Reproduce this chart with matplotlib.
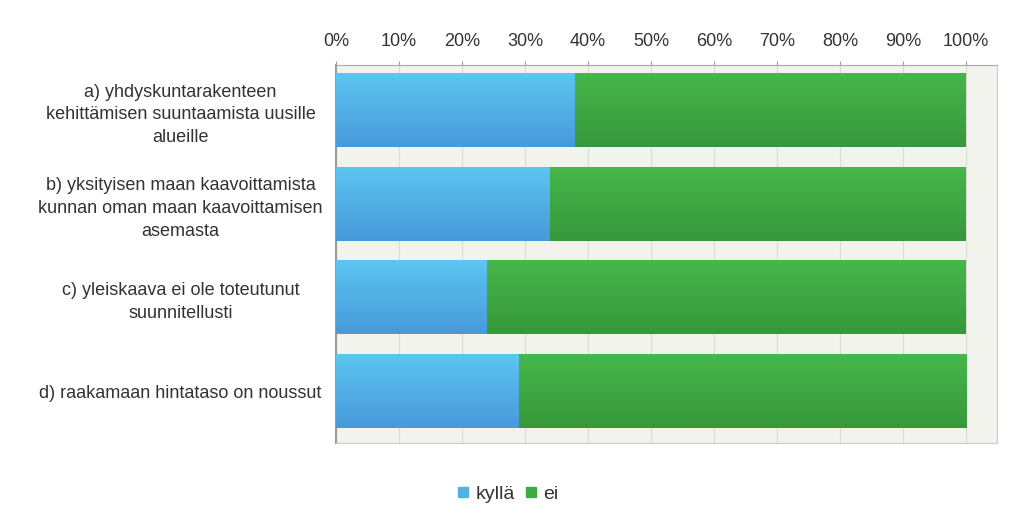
import numpy as np
import matplotlib
matplotlib.use("Agg")
import matplotlib.pyplot as plt
from matplotlib.lines import Line2D
from matplotlib.colors import to_rgb

categories = [
    "a) yhdyskuntarakenteen\nkehittämisen suuntaamista uusille\nalueille",
    "b) yksityisen maan kaavoittamista\nkunnan oman maan kaavoittamisen\nasemasta",
    "c) yleiskaava ei ole toteutunut\nsuunnitellusti",
    "d) raakamaan hintataso on noussut",
]
kylla = [38, 34, 24, 29]
ei = [62, 66, 76, 71]
series_names = ["kyllä", "ei"]
ticks = [0, 10, 20, 30, 40, 50, 60, 70, 80, 90, 100]
tick_labels = [f"{t}%" for t in ticks]

plt.rcParams['font.family'] = ['Liberation Sans', 'DejaVu Sans']

fig = plt.figure(figsize=(10.23, 5.13), dpi=100)
ax = fig.add_axes([336/1023, 1-443/513, 661/1023, 378/513])
ax.set_facecolor("#f2f3ec")

y = np.arange(len(categories))
h = 0.79
grads = {
    "kyllä": ("#5cc6f1", "#4899da"),
    "ei": ("#46b74b", "#37983b"),
}
flat = {"kyllä": "#52b0e6", "ei": "#3faa44"}

for name, vals, lefts in [("kyllä", kylla, [0]*4), ("ei", ei, kylla)]:
    bars = ax.barh(y, vals, left=lefts, height=h, color=flat[name], zorder=2)
    top, bot = to_rgb(grads[name][0]), to_rgb(grads[name][1])
    grad = np.linspace(0, 1, 64)[:, None, None]
    img = (np.array(top)[None, None, :] * (1 - grad) + np.array(bot)[None, None, :] * grad)
    for b in bars:
        x0, yb = b.get_x(), b.get_y()
        im = ax.imshow(img, extent=(x0, x0 + b.get_width(), yb + b.get_height(), yb),
                       origin='upper', aspect='auto', zorder=3, interpolation='bilinear')
        im.set_clip_path(b)

ax.set_xlim(0, 104.9)
ax.set_ylim(3.555, -0.48)
ax.set_xticks(ticks)
ax.set_xticklabels(tick_labels, fontsize=13, color="#333333")
ax.xaxis.tick_top()
ax.tick_params(axis='x', length=3, color="#999999", pad=8)
ax.set_yticks(y)
ax.set_yticklabels(categories, fontsize=13, color="#333333", linespacing=1.45,
                   ha='center')
ax.tick_params(axis='y', length=0, pad=112)
for t in ax.get_yticklabels():
    t.set_multialignment('center')
ax.grid(axis='x', color="#dcdcd4", linewidth=0.8, zorder=0)
ax.set_axisbelow(True)
ax.spines['left'].set_color("#9a9a9a")
ax.spines['left'].set_linewidth(1.5)
ax.spines['top'].set_color("#aaaaaa")
ax.spines['right'].set_color("#cccccc")
ax.spines['bottom'].set_color("#cccccc")

handles = [Line2D([], [], marker='s', linestyle='none', markersize=7.5,
                  color=flat[n]) for n in series_names]
fig.legend(handles, series_names, loc='center', bbox_to_anchor=(505/1023, 1-494/513),
           ncol=2, frameon=False, fontsize=14, handletextpad=0.05, columnspacing=0.2,
           handlelength=1.2, labelcolor="#333333")

fig.savefig("out.png", dpi=100)
